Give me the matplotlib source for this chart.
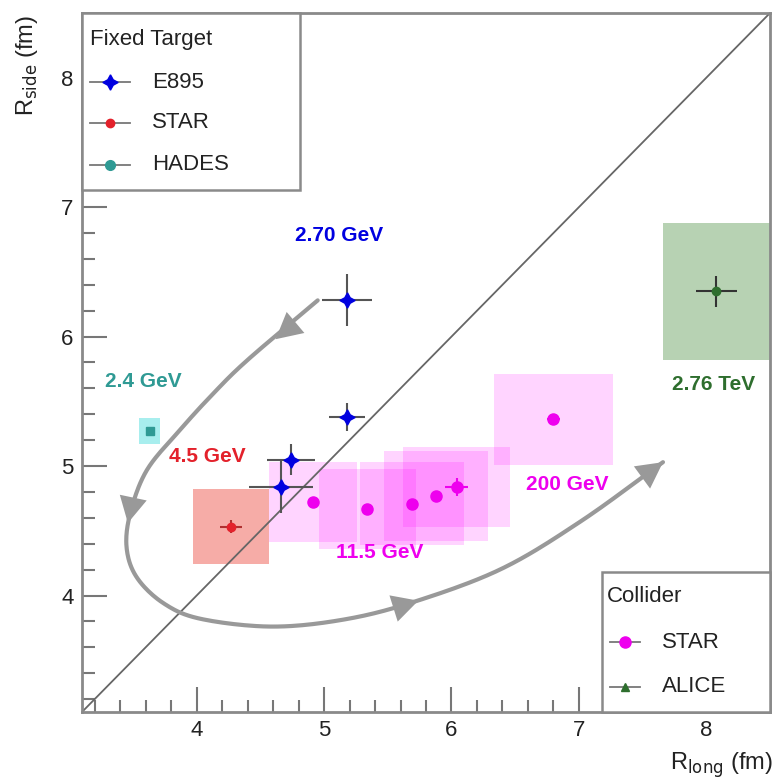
import numpy as np
import matplotlib
matplotlib.use("Agg")
import matplotlib.pyplot as plt
from matplotlib.patches import Rectangle
from matplotlib.lines import Line2D

plt.rcParams['font.family'] = ['Liberation Sans', 'DejaVu Sans']

# ---------------- data ----------------
# E895 (fixed target)
e895_x = [5.18, 5.18, 4.74, 4.66]
e895_y = [6.28, 5.38, 5.05, 4.84]
e895_xerr = [0.20, 0.14, 0.19, 0.25]
e895_yerr = [0.20, 0.11, 0.12, 0.20]

# STAR fixed target 4.5 GeV
starft_x = [4.27]
starft_y = [4.53]
starft_xerr = [0.085]
starft_yerr = [0.05]
starft_sx = [0.295]
starft_sy = [0.29]

# HADES 2.4 GeV
hades_x = [3.63]
hades_y = [5.27]
hades_sx = [0.08]
hades_sy = [0.10]

# STAR collider (BES 11.5 ... 200 GeV)
starc_x = [4.91, 5.34, 5.69, 5.88, 6.04, 6.80]
starc_y = [4.72, 4.67, 4.71, 4.77, 4.84, 5.36]
starc_xerr = [0.02, 0.02, 0.02, 0.03, 0.09, 0.05]
starc_yerr = [0.02, 0.02, 0.02, 0.03, 0.07, 0.03]
starc_sx = [0.345, 0.38, 0.41, 0.41, 0.42, 0.47]
starc_sy = [0.31, 0.31, 0.32, 0.35, 0.31, 0.35]

# ALICE 2.76 TeV
alice_x = [8.08]
alice_y = [6.35]
alice_xerr = [0.16]
alice_yerr = [0.12]
alice_sx = [0.42]
alice_sy = [0.53]

# energy labels
label_text = ["2.70 GeV", "2.4 GeV", "4.5 GeV", "11.5 GeV", "200 GeV", "2.76 TeV"]
label_x = [5.12, 3.58, 4.08, 5.44, 6.91, 8.06]
label_y = [6.78, 5.65, 5.07, 4.33, 4.86, 5.63]

# guide curve through the "trajectory"
curve_x = [4.95, 4.40, 4.13, 3.87, 3.61, 3.48, 3.45, 3.53, 3.74, 4.03, 4.58, 5.13, 5.67, 6.38, 7.01, 7.66]
curve_y = [6.28, 5.82, 5.56, 5.28, 4.97, 4.64, 4.37, 4.14, 3.94, 3.82, 3.76, 3.81, 3.94, 4.20, 4.57, 5.03]
arrow_tips = [(4.62, 5.98), (3.46, 4.56), (5.74, 3.96), (7.66, 5.03)]

XLIM = (3.1, 8.5)
YLIM = (3.1, 8.5)

# colors
BLUE = '#0000e0'
RED = '#e3212b'
TEAL = '#2f9a94'
MAG = '#ee00ee'
GREEN = '#2e6e2e'
GRAY = '#999999'

fig = plt.figure(figsize=(7.77, 7.82), dpi=100)
ax = fig.add_axes([82/777, 70/782, 688/777, 699/782])
ax.set_xlim(*XLIM)
ax.set_ylim(*YLIM)

# systematic boxes
for x, y, sx, sy in zip(starc_x, starc_y, starc_sx, starc_sy):
    ax.add_patch(Rectangle((x - sx, y - sy), 2*sx, 2*sy, facecolor='#ff00ff', alpha=0.17, lw=0, zorder=1))
for x, y, sx, sy in zip(starft_x, starft_y, starft_sx, starft_sy):
    ax.add_patch(Rectangle((x - sx, y - sy), 2*sx, 2*sy, facecolor='#ee5a50', alpha=0.5, lw=0, zorder=1))
for x, y, sx, sy in zip(hades_x, hades_y, hades_sx, hades_sy):
    ax.add_patch(Rectangle((x - sx, y - sy), 2*sx, 2*sy, facecolor='#a8eeee', alpha=1.0, lw=0, zorder=1))
for x, y, sx, sy in zip(alice_x, alice_y, alice_sx, alice_sy):
    ax.add_patch(Rectangle((x - sx, y - sy), 2*sx, 2*sy, facecolor='#b7d2b3', alpha=1.0, lw=0, zorder=1))

# diagonal y = x
ax.plot([XLIM[0], XLIM[1]], [XLIM[0], XLIM[1]], color='#666666', lw=1.3, zorder=2)

# guide curve (Catmull-Rom)
P = np.column_stack([curve_x, curve_y])
Pe = np.vstack([P[0] - (P[1] - P[0]), P, P[-1] + (P[-1] - P[-2])])
pts = []
for i in range(1, len(Pe) - 2):
    p0, p1, p2, p3 = Pe[i-1], Pe[i], Pe[i+1], Pe[i+2]
    for t in np.linspace(0, 1, 20, endpoint=False):
        t2, t3 = t*t, t*t*t
        pts.append(0.5*((2*p1) + (-p0 + p2)*t + (2*p0 - 5*p1 + 4*p2 - p3)*t2 + (-p0 + 3*p1 - 3*p2 + p3)*t3))
pts.append(P[-1])
pts = np.array(pts)
ax.plot(pts[:, 0], pts[:, 1], color=GRAY, lw=3, solid_capstyle='round', zorder=3)
for tx, ty in arrow_tips:
    d = np.hypot(pts[:, 0] - tx, pts[:, 1] - ty)
    i = max(int(np.argmin(d)), 4)
    v = pts[i] - pts[i-4]
    v = v / np.hypot(*v)
    ax.annotate('', xy=(tx, ty), xytext=(tx - 0.05*v[0], ty - 0.05*v[1]),
                arrowprops=dict(arrowstyle='-|>,head_length=0.85,head_width=0.45', mutation_scale=22,
                                color=GRAY, lw=0, shrinkA=0, shrinkB=0), zorder=4)

# data points
ax.errorbar(e895_x, e895_y, xerr=e895_xerr, yerr=e895_yerr, fmt='none', ecolor='#555555', elinewidth=1.5, zorder=5)
ax.plot(e895_x, e895_y, ls='none', marker=(4, 1, 0), ms=11, color=BLUE, mec=BLUE, zorder=6)
ax.errorbar(starft_x, starft_y, xerr=starft_xerr, yerr=starft_yerr, fmt='none', ecolor='#b03030', elinewidth=1.5, zorder=5)
ax.plot(starft_x, starft_y, ls='none', marker='o', ms=6, color=RED, zorder=6)
ax.plot(hades_x, hades_y, ls='none', marker='s', ms=6, color=TEAL, zorder=6)
ax.errorbar(starc_x, starc_y, xerr=starc_xerr, yerr=starc_yerr, fmt='none', ecolor=MAG, elinewidth=1.5, zorder=5)
ax.plot(starc_x, starc_y, ls='none', marker='o', ms=8, color=MAG, zorder=6)
ax.errorbar(alice_x, alice_y, xerr=alice_xerr, yerr=alice_yerr, fmt='none', ecolor='#333333', elinewidth=1.5, zorder=5)
ax.plot(alice_x, alice_y, ls='none', marker='o', ms=6, color=GREEN, zorder=6)

# energy labels
label_colors = [BLUE, TEAL, RED, MAG, MAG, GREEN]
for t, x, y, c in zip(label_text, label_x, label_y, label_colors):
    ax.text(x, y, t, color=c, fontsize=15, fontweight='bold', ha='center', va='center', zorder=7)

# axes style
for s in ax.spines.values():
    s.set_color('#8a8a8a')
    s.set_linewidth(2)
ax.set_xticks([4, 5, 6, 7, 8])
ax.set_yticks([4, 5, 6, 7, 8])
ax.set_xticks(np.arange(3.2, 8.5, 0.2), minor=True)
ax.set_yticks(np.arange(3.2, 8.5, 0.2), minor=True)
ax.tick_params(which='both', direction='in', color='#777777', width=1.5, labelsize=16, labelcolor='#222222',
               top=False, right=False)
ax.tick_params(which='major', length=18, pad=6)
ax.tick_params(which='minor', length=9)

ax.text(-0.08, 0.997, r'R$_{\mathrm{side}}$ (fm)', rotation=90, ha='center', va='top', fontsize=17,
        color='#222222', transform=ax.transAxes)
ax.text(1.004, -0.076, r'R$_{\mathrm{long}}$ (fm)', ha='right', va='center', fontsize=17,
        color='#222222', transform=ax.transAxes)

# legends (drawn manually)
def legend_box(x0, y0, w, h, title, entries, tx, ty, mx, lx0, lx1, textx, ys):
    ax.add_patch(Rectangle((x0, y0), w, h, transform=ax.transAxes, facecolor='white', edgecolor='#8a8a8a',
                           lw=1.8, zorder=10, clip_on=False))
    ax.text(tx, ty, title, transform=ax.transAxes, fontsize=16, va='center', ha='left', color='#222222', zorder=11)
    for (name, col, mk, ms), yy in zip(entries, ys):
        ax.add_line(Line2D([lx0, lx1], [yy, yy], transform=ax.transAxes, color='#777777', lw=1.3, zorder=11))
        ax.add_line(Line2D([mx], [yy], transform=ax.transAxes, marker=mk, ms=ms, color=col, ls='none', zorder=12))
        ax.text(textx, yy, name, transform=ax.transAxes, fontsize=16, va='center', ha='left', color='#222222', zorder=11)

legend_box(0.0, 0.747, 0.317, 0.253, 'Fixed Target',
           [('E895', BLUE, (4, 1, 0), 11), ('STAR', RED, 'o', 6), ('HADES', TEAL, 'o', 7)],
           0.012, 0.962, 0.041, 0.012, 0.070, 0.102, [0.901, 0.843, 0.783])
legend_box(0.756, 0.0, 0.244, 0.200, 'Collider',
           [('STAR', MAG, 'o', 8), ('ALICE', GREEN, '^', 6)],
           0.763, 0.165, 0.789, 0.767, 0.811, 0.843, [0.100, 0.036])

fig.savefig('out.png', dpi=100)
